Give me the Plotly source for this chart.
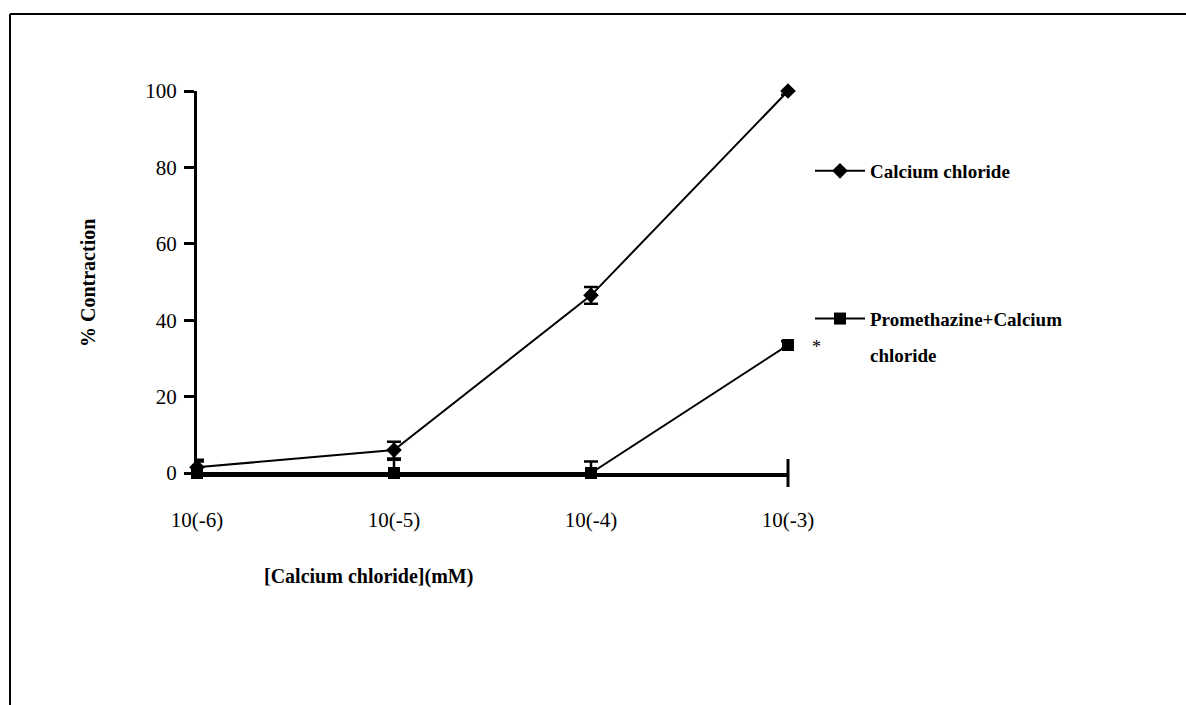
import plotly.graph_objects as go

# Calcium chloride concentration steps (mM)
conc_labels = ["10(-6)", "10(-5)", "10(-4)", "10(-3)"]
conc_pos = [0, 1, 2, 3]

# % contraction, mean and error
cacl2_mean = [1.5, 6.0, 46.5, 100.0]
cacl2_err = [2.0, 2.2, 2.2, 1.0]
prom_mean = [0.0, 0.0, 0.0, 33.5]
prom_err = [3.0, 3.5, 3.0, 1.0]

W, H = 1186, 705
L, R, T, B = 197, 398, 91, 232
pw, ph = W - L - R, H - T - B

def px_x(p):
    return (p - L) / pw

def px_y(p):
    return (H - B - p) / ph

serif = "Liberation Serif"

fig = go.Figure()
fig.add_trace(go.Scatter(
    x=conc_pos, y=cacl2_mean, name="Calcium chloride",
    mode="lines+markers", legendgroup="a",
    line=dict(color="black", width=2),
    marker=dict(symbol="diamond", size=12, color="black"),
    error_y=dict(type="data", array=cacl2_err, color="black", thickness=2.5, width=7),
    cliponaxis=False,
))
fig.add_trace(go.Scatter(
    x=conc_pos, y=prom_mean, name="Promethazine+Calcium",
    mode="lines+markers", legendgroup="b",
    line=dict(color="black", width=2),
    marker=dict(symbol="square", size=12, color="black"),
    error_y=dict(type="data", array=prom_err, color="black", thickness=2.5, width=7),
    cliponaxis=False,
))

# second line of the promethazine legend label
fig.add_annotation(xref="paper", yref="paper", x=px_x(868), y=px_y(355),
                   xanchor="left", yanchor="middle", text="<b>chloride</b>",
                   showarrow=False, font=dict(family=serif, size=19, color="black"))

# significance mark on the last promethazine point
fig.add_annotation(x=conc_pos[3], y=prom_mean[3], text="*", showarrow=False,
                   xshift=28, yshift=-2, font=dict(family=serif, size=18, color="black"))

# end tick of the x axis
fig.add_shape(type="line", xref="paper", yref="paper", x0=1, x1=1,
              y0=px_y(487), y1=px_y(459), line=dict(color="black", width=3))

# axis titles
fig.add_annotation(xref="paper", yref="paper", x=px_x(88), y=px_y(283),
                   xanchor="center", yanchor="middle",
                   text="<b>% Contraction</b>", textangle=-90, showarrow=False,
                   font=dict(family=serif, size=20, color="black"))
fig.add_annotation(xref="paper", yref="paper", x=px_x(368), y=px_y(576),
                   xanchor="center", yanchor="middle",
                   text="<b>[Calcium chloride](mM)</b>", showarrow=False,
                   font=dict(family=serif, size=20, color="black"))

# page frame (top and left rules)
frame = dict(color="black", width=2)
fig.add_shape(type="line", xref="paper", yref="paper",
              x0=px_x(10), x1=px_x(W), y0=px_y(14), y1=px_y(14), line=frame)
fig.add_shape(type="line", xref="paper", yref="paper",
              x0=px_x(10), x1=px_x(10), y0=px_y(14), y1=px_y(H), line=frame)

fig.update_layout(
    width=W, height=H,
    margin=dict(l=L, r=R, t=T, b=B, autoexpand=False),
    paper_bgcolor="white", plot_bgcolor="white",
    font=dict(family=serif, color="black"),
    legend=dict(x=px_x(810), y=px_y(152), xanchor="left", yanchor="top",
                tracegroupgap=120, itemwidth=50, bgcolor="rgba(0,0,0,0)",
                font=dict(family=serif, size=19, color="black", weight="bold")),
    xaxis=dict(range=[0, 3], tickvals=conc_pos, ticktext=conc_labels,
               showline=True, linecolor="black", linewidth=4,
               showgrid=False, zeroline=False, ticks="",
               ticklabelstandoff=25, automargin=False,
               tickfont=dict(family=serif, size=21, color="black")),
    yaxis=dict(range=[0, 100], tickvals=[0, 20, 40, 60, 80, 100],
               showline=True, linecolor="black", linewidth=3,
               showgrid=False, zeroline=False,
               ticks="outside", ticklen=10, tickwidth=3, tickcolor="black",
               ticklabelstandoff=3, automargin=False,
               tickfont=dict(family=serif, size=21, color="black")),
)

fig.write_html("out.html")
